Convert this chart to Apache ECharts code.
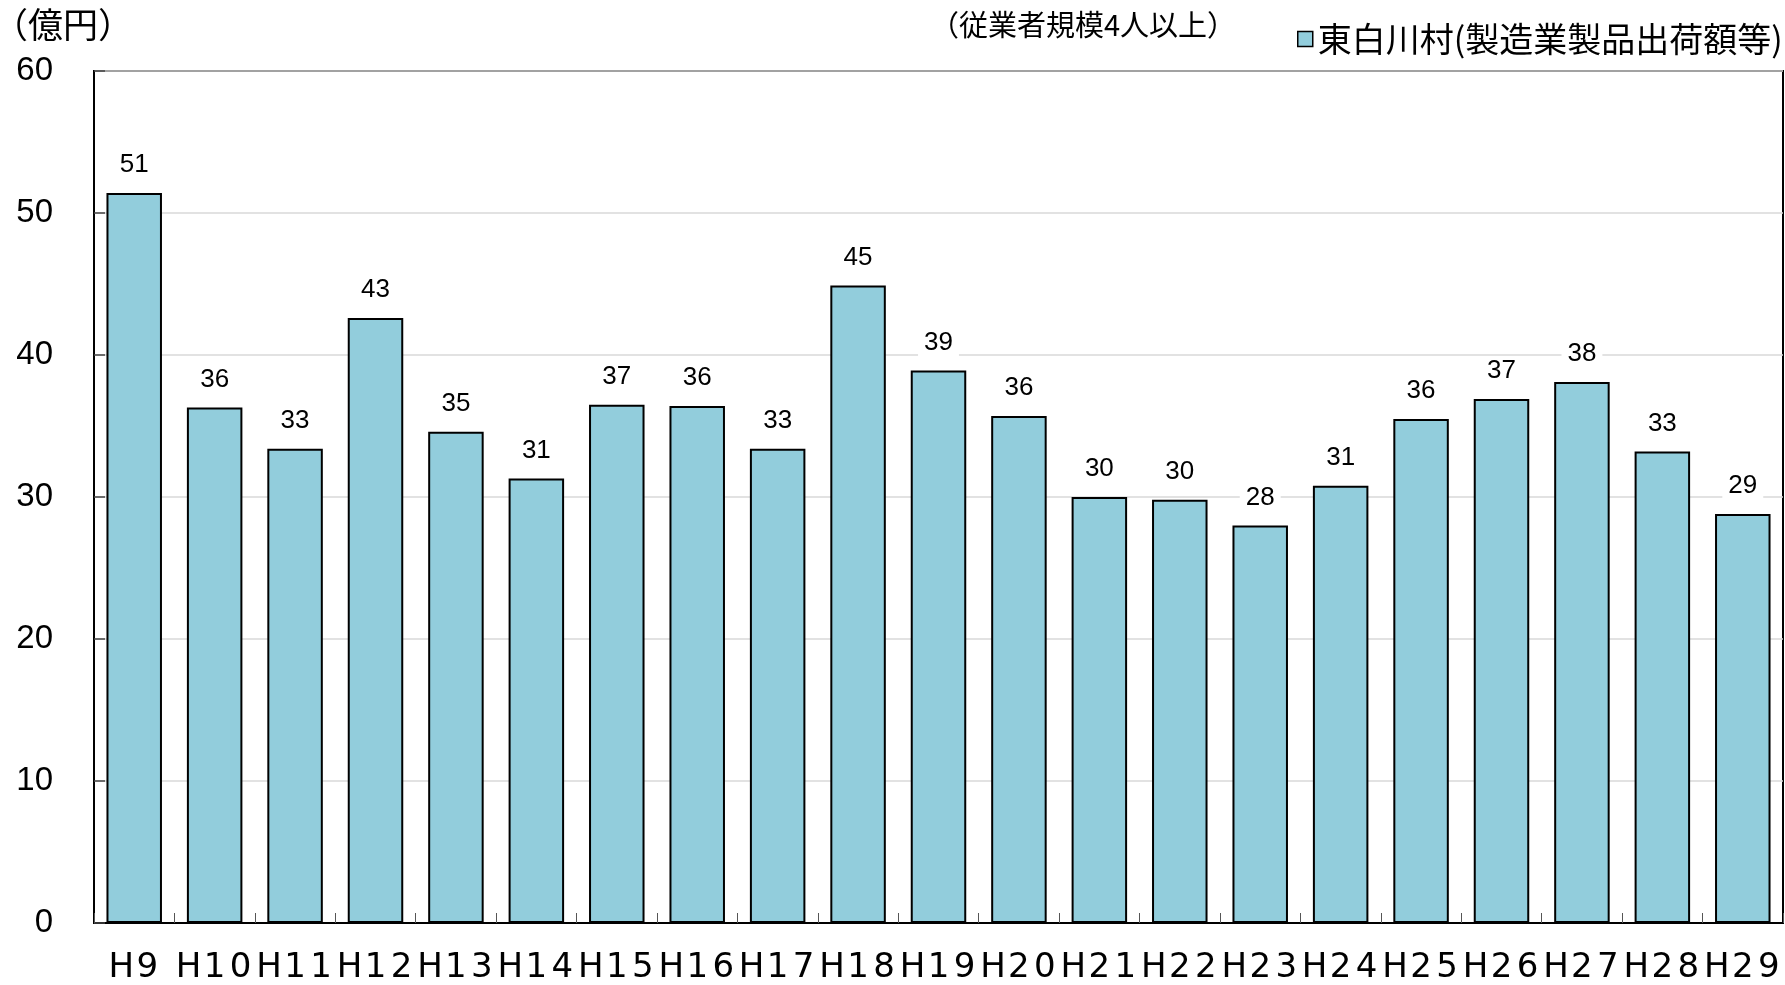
<!DOCTYPE html>
<html>
<head>
<meta charset="utf-8">
<script src="https://cdn.jsdelivr.net/npm/echarts@6/dist/echarts.min.js"></script>
<style>
html,body{margin:0;padding:0;background:#fff;}
#chart{width:1785px;height:985px;}
</style>
</head>
<body>
<div id="chart"></div>
<script>
const categories = ['H9','H10','H11','H12','H13','H14','H15','H16','H17','H18','H19','H20','H21','H22','H23','H24','H25','H26','H27','H28','H29'];
const values = [51.4, 36.3, 33.4, 42.6, 34.6, 31.3, 36.5, 36.4, 33.4, 44.9, 38.9, 35.7, 30.0, 29.8, 28.0, 30.8, 35.5, 36.9, 38.1, 33.2, 28.8];
const seriesName = '東白川村(製造業製品出荷額等)';
const unitLabel = '（億円）';
const noteLabel = '（従業者規模4人以上）';
const yTicks = {min: 0, max: 60, interval: 10};

const chart = echarts.init(document.getElementById('chart'));
const option = {
  backgroundColor: '#ffffff',
  animation: false,
  grid: {left: 94, right: 2, top: 71, bottom: 61, show: true, borderColor: '#000', borderWidth: 2, backgroundColor: 'transparent'},
  legend: {
    data: [seriesName],
    left: 1292, top: 17, padding: 5,
    icon: 'rect', itemWidth: 15, itemHeight: 15,
    textStyle: {fontSize: 34, color: '#000', fontFamily: 'Noto Sans CJK JP'},
    itemStyle: {borderColor: '#000', borderWidth: 1.5}
  },
  graphic: [
    {type: 'text', left: -7, top: 7, style: {text: unitLabel, fontSize: 35, fill: '#000', fontFamily: 'Noto Sans CJK JP'}},
    {type: 'text', left: 930, top: 10, style: {text: noteLabel, fontSize: 29, fill: '#000', fontFamily: 'Noto Sans CJK JP'}}
  ],
  xAxis: {
    type: 'category',
    data: categories,
    axisLine: {show: true, lineStyle: {color: '#000', width: 2}},
    axisTick: {show: true, inside: true, length: 10, lineStyle: {color: '#555', width: 1}},
    axisLabel: {
      margin: 28, interval: 0,
      formatter: v => v.split('').map(c => '{c|' + c + '}').join(''),
      rich: {c: {width: 26, align: 'center', fontSize: 34, fontFamily: 'DejaVu Sans', color: '#000'}}
    }
  },
  yAxis: {
    type: 'value',
    min: yTicks.min, max: yTicks.max, interval: yTicks.interval,
    axisLine: {show: true, lineStyle: {color: '#000', width: 2}},
    axisTick: {show: true, inside: true, length: 11, lineStyle: {color: '#444', width: 1.5}},
    axisLabel: {margin: 41, fontSize: 33, color: '#000', fontFamily: 'Liberation Sans'},
    splitLine: {show: true, lineStyle: {color: '#d9d9d9', width: 1.5}}
  },
  series: [{
    name: seriesName,
    type: 'bar',
    data: values,
    barCategoryGap: '31%',
    itemStyle: {color: '#92CDDC', borderColor: '#000', borderWidth: 2},
    label: {
      show: true, position: 'top', distance: 13,
      formatter: p => Math.round(p.value),
      fontSize: 26, color: '#000', fontFamily: 'Liberation Sans',
      backgroundColor: '#fff', padding: [2, 6]
    }
  }]
};
chart.setOption(option);
</script>
</body>
</html>
